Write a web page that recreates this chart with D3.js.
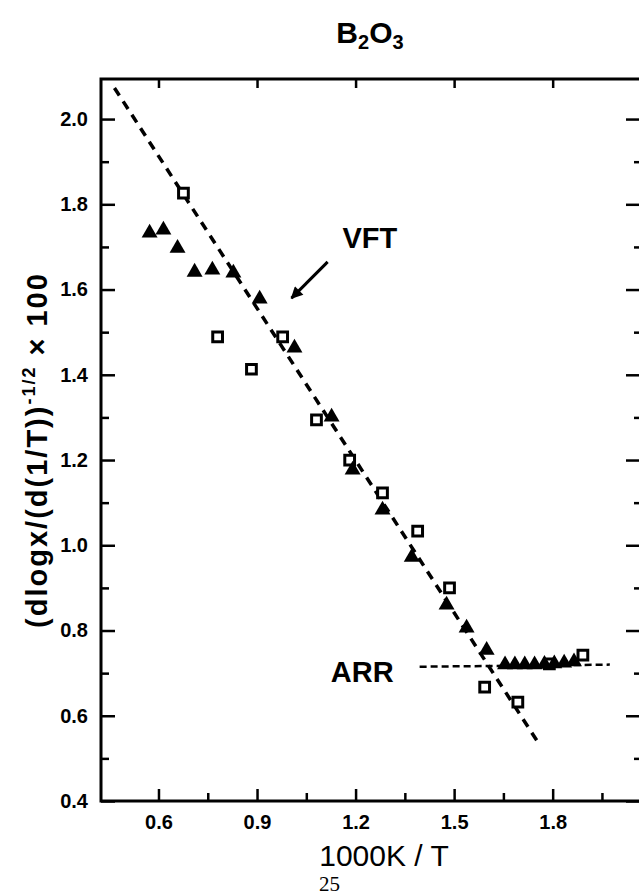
<!DOCTYPE html>
<html>
<head>
<meta charset="utf-8">
<script src="https://cdn.jsdelivr.net/npm/d3@7"></script>
<style>
  body { margin: 0; background: #fff; }
  text { font-family: "Liberation Sans", Arial, sans-serif; fill: #000; }
</style>
</head>
<body>
<div id="chart"></div>
<script>
// open squares
const squareX = [0.676, 0.780, 0.883, 0.978, 1.081, 1.182, 1.282, 1.389, 1.486, 1.593, 1.694, 1.790, 1.892];
const squareY = [1.826, 1.489, 1.413, 1.489, 1.294, 1.200, 1.123, 1.033, 0.900, 0.667, 0.632, 0.722, 0.742];
// filled triangles
const triX = [0.573, 0.615, 0.658, 0.710, 0.764, 0.828, 0.908, 1.014, 1.127, 1.191, 1.282, 1.371, 1.477, 1.538, 1.599,
              1.655, 1.685, 1.715, 1.745, 1.775, 1.805, 1.835, 1.865];
const triY = [1.733, 1.740, 1.697, 1.641, 1.646, 1.639, 1.578, 1.463, 1.301, 1.177, 1.083, 0.972, 0.860, 0.806, 0.754,
              0.720, 0.720, 0.720, 0.720, 0.721, 0.722, 0.724, 0.727];
// fitted lines
const vftX = [0.466, 1.761], vftY = [2.073, 0.531];
const arrX = [1.395, 1.974], arrY = [0.715, 0.720];
// annotation arrow (VFT)
const arrowX = [1.115, 1.005], arrowY = [1.665, 1.580];
// ticks
const xTicks = [0.6, 0.9, 1.2, 1.5, 1.8];
const xMinor = [0.75, 1.05, 1.35, 1.65, 1.95];
const yTicks = [0.4, 0.6, 0.8, 1.0, 1.2, 1.4, 1.6, 1.8, 2.0];
const yMinor = [0.5, 0.7, 0.9, 1.1, 1.3, 1.5, 1.7, 1.9];

const W = 639, H = 896;
const plotLeft = 101, plotRight = 643, plotTop = 79, plotBottom = 801;

const svg = d3.select("#chart").append("svg")
    .attr("width", W)
    .attr("height", H);

const x = d3.scaleLinear().domain([0.425, 2.075]).range([plotLeft, plotRight]);
const y = d3.scaleLinear().domain([0.4, 2.094]).range([plotBottom, plotTop]);

// axes, ticks pointing inward
function tidy(g) {
  g.select(".domain").remove();
  g.selectAll(".tick line").attr("stroke", "#000").attr("stroke-width", 2.5);
}

svg.append("g")
  .attr("transform", "translate(0," + plotBottom + ")")
  .call(d3.axisBottom(x).tickValues(xTicks).tickSize(-12).tickPadding(14).tickFormat(d3.format(".1f")))
  .call(tidy)
  .selectAll("text")
    .style("font-size", "20px")
    .style("font-weight", "bold")
    .style("font-family", "'Liberation Sans', Arial, sans-serif");

svg.append("g")
  .attr("transform", "translate(0," + plotBottom + ")")
  .call(d3.axisBottom(x).tickValues(xMinor).tickSize(-8).tickFormat(""))
  .call(tidy);

svg.append("g")
  .attr("transform", "translate(0," + plotTop + ")")
  .call(d3.axisTop(x).tickValues(xTicks).tickSize(-9).tickFormat(""))
  .call(tidy);

svg.append("g")
  .attr("transform", "translate(" + plotLeft + ",0)")
  .call(d3.axisLeft(y).tickValues(yTicks).tickSize(-14).tickPadding(13).tickFormat(d3.format(".1f")))
  .call(tidy)
  .selectAll("text")
    .style("font-size", "20px")
    .style("font-weight", "bold")
    .style("font-family", "'Liberation Sans', Arial, sans-serif");

svg.append("g")
  .attr("transform", "translate(" + plotLeft + ",0)")
  .call(d3.axisLeft(y).tickValues(yMinor).tickSize(-8).tickFormat(""))
  .call(tidy);

svg.append("g")
  .attr("transform", "translate(" + plotRight + ",0)")
  .call(d3.axisRight(y).tickValues(yTicks).tickSize(-17).tickFormat(""))
  .call(tidy);

svg.append("g")
  .attr("transform", "translate(" + plotRight + ",0)")
  .call(d3.axisRight(y).tickValues(yMinor).tickSize(-9).tickFormat(""))
  .call(tidy);

// frame
svg.append("rect")
  .attr("x", plotLeft).attr("y", plotTop)
  .attr("width", plotRight - plotLeft).attr("height", plotBottom - plotTop)
  .attr("fill", "none")
  .attr("stroke", "#000")
  .attr("stroke-width", 3);

// VFT dashed line
const line = d3.line().x(d => x(d[0])).y(d => y(d[1]));
svg.append("path")
  .attr("d", line(d3.zip(vftX, vftY)))
  .attr("fill", "none")
  .attr("stroke", "#000")
  .attr("stroke-width", 3.5)
  .attr("stroke-dasharray", "9,7");

// ARR dashed line
svg.append("path")
  .attr("d", line(d3.zip(arrX, arrY)))
  .attr("fill", "none")
  .attr("stroke", "#000")
  .attr("stroke-width", 2.5)
  .attr("stroke-dasharray", "7,4");

// squares
svg.selectAll(".sq")
  .data(d3.zip(squareX, squareY))
  .enter().append("path")
    .attr("class", "sq")
    .attr("transform", d => "translate(" + x(d[0]) + "," + y(d[1]) + ")")
    .attr("d", d3.symbol().type(d3.symbolSquare).size(95))
    .attr("fill", "#fff")
    .attr("stroke", "#000")
    .attr("stroke-width", 3);

// triangles
svg.selectAll(".tri")
  .data(d3.zip(triX, triY))
  .enter().append("path")
    .attr("class", "tri")
    .attr("transform", d => "translate(" + x(d[0]) + "," + y(d[1]) + ")")
    .attr("d", d3.symbol().type(d3.symbolTriangle).size(110))
    .attr("fill", "#000");

// arrow
svg.append("defs").append("marker")
  .attr("id", "head")
  .attr("viewBox", "0 0 10 10")
  .attr("refX", 9).attr("refY", 5)
  .attr("markerWidth", 5).attr("markerHeight", 4)
  .attr("orient", "auto")
  .append("path")
    .attr("d", "M0,0L10,5L0,10Z")
    .attr("fill", "#000");

svg.append("path")
  .attr("d", line(d3.zip(arrowX, arrowY)))
  .attr("stroke", "#000")
  .attr("stroke-width", 3)
  .attr("marker-end", "url(#head)");

// labels
svg.append("text")
  .attr("x", x(1.160)).attr("y", y(1.697))
  .style("font-size", "29px")
  .style("font-weight", "bold")
  .text("VFT");

svg.append("text")
  .attr("x", x(1.316)).attr("y", y(0.679))
  .attr("text-anchor", "end")
  .style("font-size", "29px")
  .style("font-weight", "bold")
  .text("ARR");

// title
const title = svg.append("text")
  .attr("x", 370).attr("y", 43)
  .attr("text-anchor", "middle")
  .style("font-size", "30px")
  .style("font-weight", "bold");
title.append("tspan").text("B");
title.append("tspan").attr("dy", 6).style("font-size", "20px").text("2");
title.append("tspan").attr("dy", -6).text("O");
title.append("tspan").attr("dy", 6).style("font-size", "20px").text("3");

// y-axis label
const ylab = svg.append("text")
  .attr("transform", "translate(47,450) rotate(-90)")
  .attr("text-anchor", "middle")
  .style("font-size", "29px")
  .style("font-weight", "bold")
  .style("letter-spacing", "2px");
ylab.append("tspan").text("(dlogx/(d(1/T))");
ylab.append("tspan").attr("dy", -12).style("font-size", "18px").text("-1/2");
ylab.append("tspan").attr("dy", 12).text(" \u00d7 100");

// x-axis label
svg.append("text")
  .attr("x", 384).attr("y", 866)
  .attr("text-anchor", "middle")
  .style("font-size", "30px")
  .text("1000K / T");

// page number
svg.append("text")
  .attr("x", 319).attr("y", 891)
  .style("font-family", "'Liberation Serif', 'Times New Roman', serif")
  .style("font-size", "21px")
  .text("25");
</script>
</body>
</html>
